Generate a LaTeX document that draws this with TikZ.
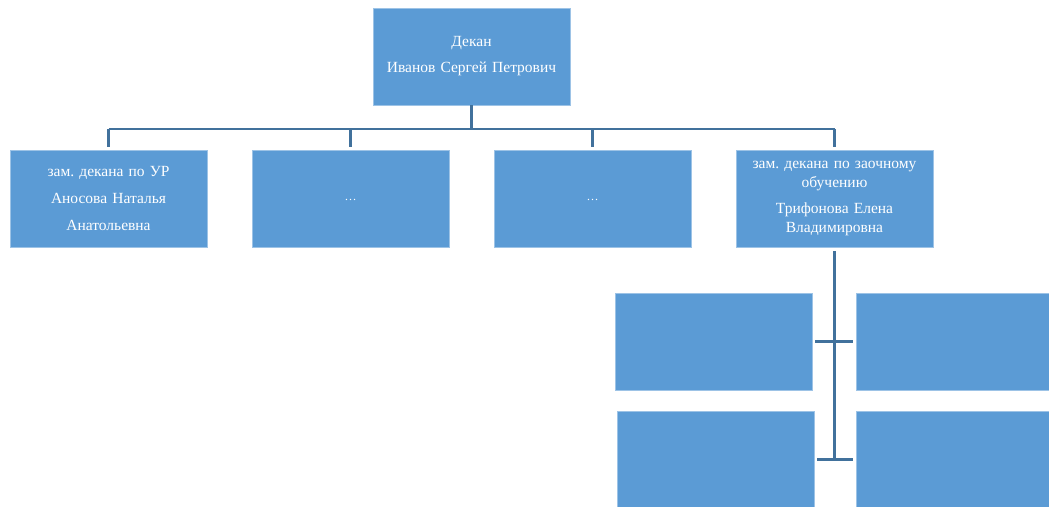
\documentclass[tikz,border=0pt]{standalone}
\usepackage{fontspec}
\setmainfont{Liberation Serif}
\frenchspacing
\usetikzlibrary{positioning}
\definecolor{boxblue}{HTML}{5B9BD5}
\definecolor{lineblue}{HTML}{41719C}
\tikzset{
  unit/.style={rectangle,fill=boxblue,draw=boxblue!60!white,line width=0.6pt,
    minimum width=197pt,minimum height=97pt,text width=190pt,align=center,
    text=white,font=\fontsize{15.5}{19}\selectfont,inner sep=0pt},
  conn/.style={draw=lineblue,line width=2.6pt},
}
\begin{document}
\begin{tikzpicture}[x=1pt,y=-1pt]
\useasboundingbox (0,0) rectangle (1049,506);
\clip (0,0) rectangle (1049,506);
% \draw[help lines] (0,0) grid (1049,506);
\node (dean) [unit] at (471.5,56.5) {Декан\\[7pt]Иванов Сергей Петрович};
\node (zam1) [unit] at (108.5,198.5) {зам. декана по УР\\[8pt]Аносова Наталья\\[8pt]Анатольевна};
\node (zam2) [unit] at (350.5,198.5) {\raisebox{-4pt}{\fontsize{12}{12}\selectfont …}};
\node (zam3) [unit] at (592.5,198.5) {\raisebox{-4pt}{\fontsize{12}{12}\selectfont …}};
\node (zam4) [unit] at (834.5,198.5) {зам. декана по заочному\\обучению\\[7pt]Трифонова Елена\\Владимировна};
%
\node (sub1) [unit] at (713.5,341.5) {};
\node (sub2) [unit] at (954.5,341.5) {};
\node (sub3) [unit] at (715.5,459.5) {};
\node (sub4) [unit] at (954.5,459.5) {};
%
\coordinate (bar) at (471.5,129);
\draw[conn] (dean.south) -- (bar);
\draw[conn] (bar -| zam1.north) -- (bar -| zam4.north);
\foreach \n in {zam1,zam2,zam3,zam4}
  \draw[conn,shorten >=3pt] (bar -| \n.north) -- (\n.north);
\draw[conn,shorten <=4pt] (zam4.south) -- (zam4.south |- sub4.west);
\draw[conn,shorten <=3pt,shorten >=3pt] (sub1.east) -- (sub2.west);
\draw[conn,shorten <=3pt,shorten >=3pt] (sub3.east) -- (sub4.west);
\end{tikzpicture}
\end{document}
